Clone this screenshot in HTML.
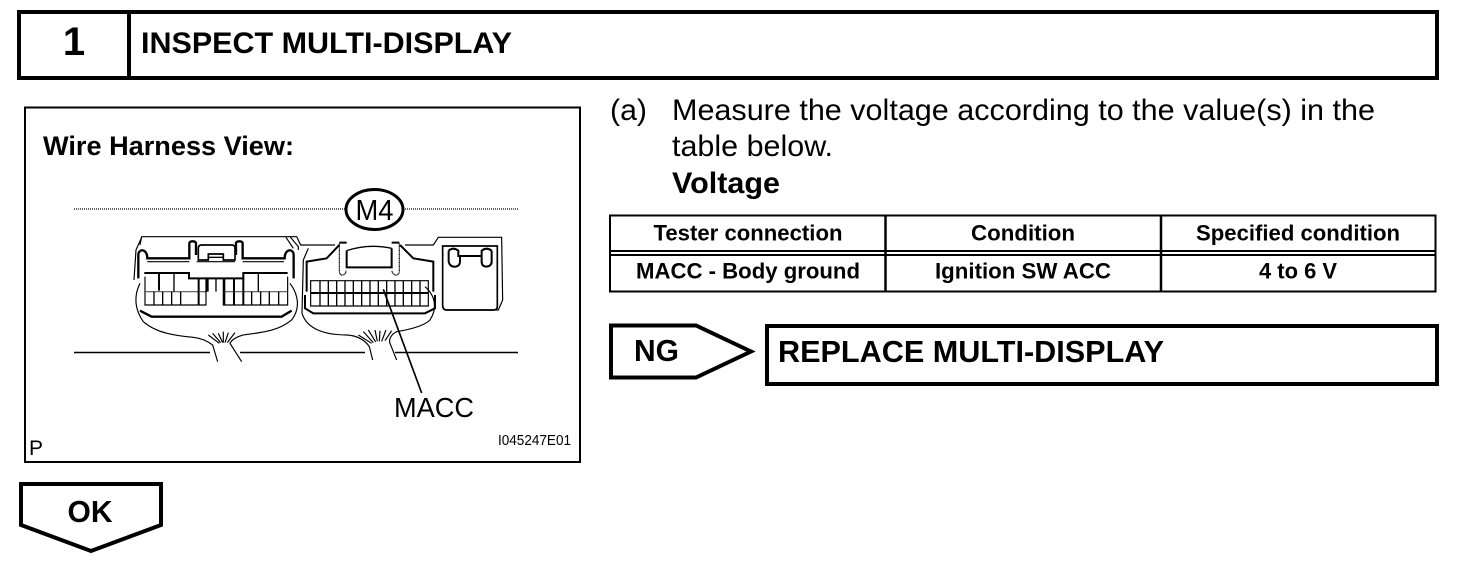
<!DOCTYPE html>
<html><head><meta charset="utf-8"><style>
html,body{margin:0;padding:0;background:#fff;width:1472px;height:570px;overflow:hidden}
svg{display:block}
text{font-family:"Liberation Sans",sans-serif;fill:#000}
.b{font-weight:bold}
.m{text-anchor:middle}
</style></head><body>
<svg width="1472" height="570" viewBox="0 0 1472 570" xmlns="http://www.w3.org/2000/svg">
<g fill="none" stroke="#000">
<rect x="19" y="12" width="1418" height="66" stroke-width="4"/>
<path d="M129 12V78" stroke-width="4"/>
<rect x="25" y="107.500" width="555" height="354.500" stroke-width="2"/>
<rect x="610" y="215.500" width="825.500" height="76" stroke-width="2"/>
<path d="M885.500 215V291.500M1161 215V291.500" stroke-width="2.500"/>
<path d="M610 251H1435.500M610 255H1435.500" stroke-width="2"/>
<path d="M611 325.500H696L751 351.500L696 377.500H611Z" stroke-width="4"/>
<rect x="767" y="326" width="670" height="58" stroke-width="4"/>
<path d="M21 484H161V525L91 551L21 525Z" stroke-width="4" stroke-linejoin="miter"/>
<path d="M74 209H345M403 209H518" stroke="#333" stroke-width="1.500" stroke-dasharray="1 1"/>
<path d="M74 352.500H210M240 352.500H365M395 352.500H518" stroke-width="1.500"/>
<ellipse cx="374.500" cy="209.500" rx="28.500" ry="20" stroke-width="3"/>
</g>

<!-- left connector -->
<g transform="translate(60 180) scale(.3333)" fill="none" stroke="#000">
<g stroke-width="3.500">
<path d="M240 195L245 170H690L715 200V210"/>
<path d="M245 172L228 210L222 300M678 172L700 205"/>
<path d="M240 310C220 350 225 390 250 425C290 460 350 468 400 472C425 475 445 485 458 495L473 545"/>
<path d="M690 310C720 350 718 390 695 420C650 458 590 458 550 465C530 470 515 480 510 490L545 545"/>
<path d="M445 465L478 490M458 460L482 488M475 460L488 488M490 455V488M505 458L495 488M525 458L502 488"/>
<path d="M255 290V375H438V295M490 295V375H683V290"/>
<path d="M255 335H438M490 335H683" stroke-dasharray="2 1"/>
<path d="M282 335V375M308 335V375M335 335V375M362 335V375M342 280V335M595 280V335M575 335V375M602 335V375M628 335V375M656 335V375M468 295V335M440 295V335" stroke-width="4"/>
<path d="M262 245H388M548 245H672M410 245H525"/>
</g>
<path d="M415 205Q415 195 425 195H515Q525 195 525 205V240H490V222H445V240H415Z" stroke-width="5"/>
<path d="M445 232H490" stroke-width="4"/>
<g stroke-width="7">
<path d="M235 295V225C235 205 262 205 262 235H388V190C388 182 408 182 408 190V225"/>
<path d="M701 295V225C701 205 674 205 674 235H548V190C548 182 528 182 528 190V225"/>
<path d="M240 392L275 410H665L695 392"/>
</g>
<g stroke-width="6">
<path d="M253 279H387V295H550V279H683"/>
<path d="M297 280V332M416 295V375M443 295V335M493 295V375M522 295V375M550 295V375"/>
</g>
</g>
<!-- right connector -->
<g transform="translate(290 180) scale(.3333)" fill="none" stroke="#000">
<g stroke-width="3.500">
<path d="M0 170H20L32 195H135M345 195H430L445 172H635L638 360L625 390H470"/>
<path d="M55 205L40 240L36 400C50 445 100 465 170 465C200 466 225 480 238 500L248 540"/>
<path d="M405 320C440 350 440 390 420 420C400 440 350 450 320 455C305 462 295 478 300 490L320 540"/>
<path d="M205 465L245 490M220 455L250 488M235 450L257 486M255 450L262 484M270 452L268 484M288 450L275 484M305 452L285 482"/>
<path d="M62 302H415V378H62Z"/>
<path d="M90 302V378M115 302V378M140 302V378M165 302V378M190 302V378M215 302V378M240 302V378M265 302V378M290 302V378M315 302V378M340 302V378M365 302V378M390 302V378" stroke-width="4"/>
<path d="M148 190V272C148 292 168 287 168 272M328 190V272C328 292 306 287 306 272" stroke-dasharray="3 1"/>
<path d="M170 212Q235 190 305 205" stroke-width="4"/>
</g>
<g stroke-width="6">
<path d="M170 212V262H305V205"/>
<path d="M148 188H170M305 188H328"/>
<path d="M50 335V245L110 235L148 195M330 195L370 235L430 245V335"/>
<path d="M62 339H415"/>
<path d="M45 345V385L70 400H405L435 385V345"/>
<path d="M458 198H622V380C622 388 615 390 610 390H470C462 390 458 385 458 375Z" stroke-width="5"/>
<path d="M476 212Q490 200 505 212V228H575V212Q590 200 605 212M476 212V245Q480 262 497 260Q510 258 510 245V230M575 230V245Q575 260 590 260Q605 258 605 245V212" stroke-width="6"/>
<path d="M280 328L395 639" stroke-width="5"/>
</g>
</g>

<text x="74" y="55" class="b m" font-size="40">1</text>
<text x="141" y="53" class="b" font-size="30" textLength="371" lengthAdjust="spacingAndGlyphs">INSPECT MULTI-DISPLAY</text>
<text x="43" y="155" class="b" font-size="27" textLength="251" lengthAdjust="spacingAndGlyphs">Wire Harness View:</text>
<text x="374.500" y="220" class="m" font-size="29" textLength="38" lengthAdjust="spacingAndGlyphs">M4</text>
<text x="394" y="417" font-size="28" textLength="80" lengthAdjust="spacingAndGlyphs">MACC</text>
<text x="29" y="455" font-size="21">P</text>
<text x="498" y="445" font-size="14.500" textLength="73" lengthAdjust="spacingAndGlyphs">I045247E01</text>
<text x="610" y="120" font-size="30" textLength="37" lengthAdjust="spacingAndGlyphs">(a)</text>
<text x="672" y="120" font-size="30" textLength="703" lengthAdjust="spacingAndGlyphs">Measure the voltage according to the value(s) in the</text>
<text x="672" y="156" font-size="30" textLength="161" lengthAdjust="spacingAndGlyphs">table below.</text>
<text x="672" y="193" class="b" font-size="30" textLength="108" lengthAdjust="spacingAndGlyphs">Voltage</text>
<text x="748" y="240.500" class="b m" font-size="22" textLength="189" lengthAdjust="spacingAndGlyphs">Tester connection</text>
<text x="1023" y="240.500" class="b m" font-size="22" textLength="104" lengthAdjust="spacingAndGlyphs">Condition</text>
<text x="1298" y="240.500" class="b m" font-size="22" textLength="204" lengthAdjust="spacingAndGlyphs">Specified condition</text>
<text x="748" y="278.500" class="b m" font-size="22" textLength="224" lengthAdjust="spacingAndGlyphs">MACC - Body ground</text>
<text x="1023" y="278.500" class="b m" font-size="22" textLength="176" lengthAdjust="spacingAndGlyphs">Ignition SW ACC</text>
<text x="1298" y="278.500" class="b m" font-size="22" textLength="78" lengthAdjust="spacingAndGlyphs">4 to 6 V</text>
<text x="634" y="361" class="b" font-size="31" textLength="45" lengthAdjust="spacingAndGlyphs">NG</text>
<text x="778" y="362" class="b" font-size="31" textLength="386" lengthAdjust="spacingAndGlyphs">REPLACE MULTI-DISPLAY</text>
<text x="90" y="522" class="b m" font-size="31" textLength="45" lengthAdjust="spacingAndGlyphs">OK</text>
</svg>
</body></html>
